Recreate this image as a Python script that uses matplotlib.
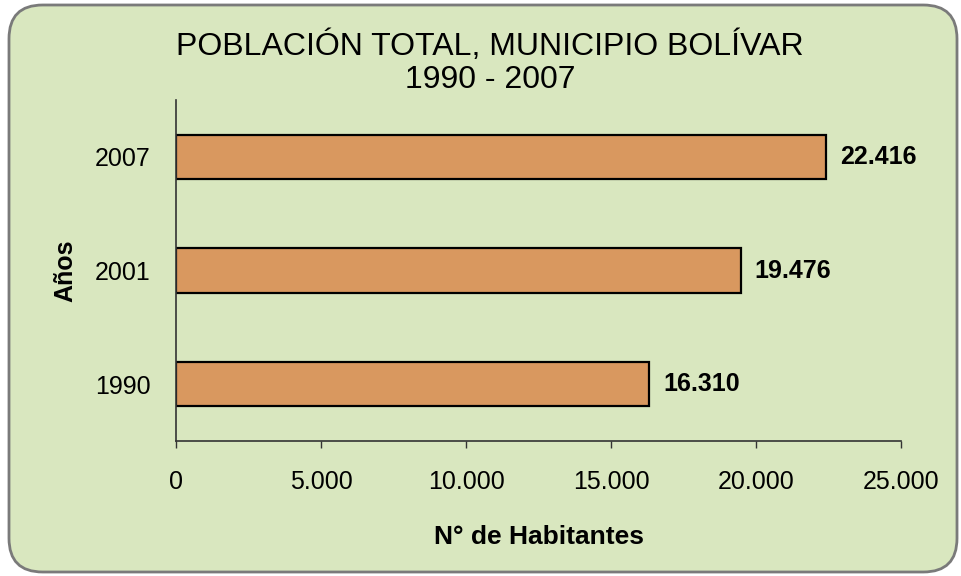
import matplotlib
matplotlib.use("Agg")
import matplotlib.pyplot as plt
from matplotlib.patches import FancyBboxPatch
from matplotlib.ticker import FuncFormatter

years = ["1990", "2001", "2007"]
population = [16310, 19476, 22416]
xticks = [0, 5000, 10000, 15000, 20000, 25000]

plt.rcParams['font.family'] = ['Liberation Sans', 'DejaVu Sans']

fig = plt.figure(figsize=(9.61, 5.76), dpi=100)
fig.patch.set_facecolor('white')

bg = FancyBboxPatch((9/961, 4/576), 948/961, 567/576,
                    boxstyle="round,pad=0,rounding_size=0.035",
                    transform=fig.transFigure, facecolor='#d9e7bf',
                    edgecolor='#7a7a7a', linewidth=2, mutation_aspect=961/576,
                    zorder=-10)
fig.patches.append(bg)

ax = fig.add_axes([176/961, 1 - 441/576, 725/961, 341/576])
ax.set_facecolor('none')
ax.set_zorder(5)

def fmt(v):
    return f"{int(v):,}".replace(",", ".")

bars = ax.barh(years, population, height=0.39, color='#d9985f',
               edgecolor='black', linewidth=1.6)
for b, v in zip(bars, population):
    ax.annotate(fmt(v), (v, b.get_y() + b.get_height() / 2),
                xytext=(14, 0), textcoords='offset pixels',
                va='center', ha='left', fontsize=18, fontweight='bold')

ax.set_xlim(0, 25000)
ax.set_ylim(-0.5, 2.5)
ax.set_xticks(xticks)
ax.xaxis.set_major_formatter(FuncFormatter(lambda v, p: fmt(v)))
ax.tick_params(axis='both', labelsize=18, length=5, width=1, color='#333333',
               direction='out')
ax.tick_params(axis='y', length=0, pad=18)
ax.tick_params(axis='x', pad=16)
for s in ['top', 'right']:
    ax.spines[s].set_visible(False)
for s in ['left', 'bottom']:
    ax.spines[s].set_color('#333333')
    ax.spines[s].set_linewidth(1.2)

ax.set_xlabel("N° de Habitantes", fontsize=19, fontweight='bold', labelpad=22)
ax.set_ylabel("Años", fontsize=18, fontweight='bold', labelpad=13)

fig.text(490/961, 1 - 63/576, "POBLACIÓN TOTAL, MUNICIPIO BOLÍVAR\n1990 - 2007",
         ha='center', va='center', fontsize=23, linespacing=1.15, zorder=6)

fig.savefig("out.png", dpi=100)
